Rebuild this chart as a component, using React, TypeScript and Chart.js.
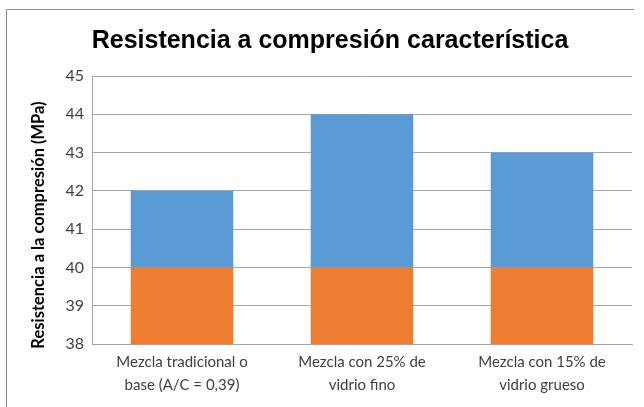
import React, { useEffect, useRef } from "react";
import { Chart, registerables } from "chart.js";

Chart.register(...registerables);

const categories: string[][] = [
  ["Mezcla tradicional o", "base (A/C = 0,39)"],
  ["Mezcla con 25% de", "vidrio fino"],
  ["Mezcla con 15% de", "vidrio grueso"],
];
const baseValues = [40, 40, 40];
const increaseValues = [2, 4, 3];
const yMin = 38;
const yMax = 45;
const titleText = "Resistencia a compresión característica";
const yTitle = "Resistencia a la compresión (MPa)";

const framePlugin = {
  id: "frame",
  beforeDraw(chart: any) {
    const ctx = chart.ctx;
    ctx.save();
    ctx.fillStyle = "#ffffff";
    ctx.fillRect(0, 0, chart.width, chart.height);
    ctx.strokeStyle = "#8c8c8c";
    ctx.lineWidth = 1;
    ctx.beginPath();
    ctx.moveTo(6.5, chart.height);
    ctx.lineTo(6.5, 9.5);
    ctx.lineTo(634, 9.5);
    ctx.stroke();
    ctx.restore();
  },
  afterDraw(chart: any) {
    const ctx = chart.ctx;
    const area = chart.chartArea;
    ctx.save();
    ctx.translate(38.5, (area.top + area.bottom) / 2 + 15);
    ctx.rotate(-Math.PI / 2);
    ctx.fillStyle = "#000000";
    ctx.font = "bold 16.5px Lato";
    ctx.textAlign = "center";
    ctx.textBaseline = "middle";
    ctx.fillText(yTitle, 0, 0);
    ctx.restore();
  },
};

export default function App() {
  const ref = useRef<HTMLCanvasElement>(null);
  useEffect(() => {
    if (!ref.current) return;
    const chart = new Chart(ref.current, {
      type: "bar",
      data: {
        labels: categories,
        datasets: [
          {
            label: "Base",
            data: baseValues,
            backgroundColor: "#ED7D31",
            borderWidth: 0,
            categoryPercentage: 1,
            barPercentage: 0.57,
          },
          {
            label: "Incremento",
            data: increaseValues,
            backgroundColor: "#5B9BD5",
            borderWidth: 0,
            categoryPercentage: 1,
            barPercentage: 0.57,
          },
        ],
      },
      options: {
        animation: false,
        responsive: false,
        devicePixelRatio: 1,
        layout: { padding: { left: 28, right: 12, top: 0, bottom: 0 } },
        plugins: {
          legend: { display: false },
          tooltip: { enabled: false },
          title: {
            display: true,
            text: titleText,
            color: "#000000",
            font: { family: "Liberation Sans", size: 25, weight: "bold", lineHeight: 1.2 },
            padding: { top: 26, bottom: 20 },
          },
        },
        scales: {
          x: {
            stacked: true,
            grid: { display: false, drawTicks: false },
            border: { display: true, color: "#a6a6a6" },
            ticks: {
              color: "#404040",
              font: { family: "Lato", size: 15, lineHeight: 1.5 },
              padding: 7,
              maxRotation: 0,
              autoSkip: false,
            },
            afterFit: (s: any) => {
              s.height = 63;
            },
          },
          y: {
            stacked: true,
            min: yMin,
            max: yMax,
            grid: { color: "#a6a6a6", drawTicks: false },
            border: { display: true, color: "#a6a6a6" },
            ticks: {
              stepSize: 1,
              color: "#404040",
              font: { family: "Lato", size: 16 },
              padding: 8,
            },
            afterFit: (s: any) => {
              s.width = 64;
            },
          },
        },
      },
      plugins: [framePlugin],
    });
    return () => chart.destroy();
  }, []);
  return (
    <div style={{ position: "absolute", left: 0, top: 0, width: 644, height: 407 }}>
      <canvas ref={ref} width={644} height={407} style={{ width: 644, height: 407, display: "block" }} />
    </div>
  );
}
